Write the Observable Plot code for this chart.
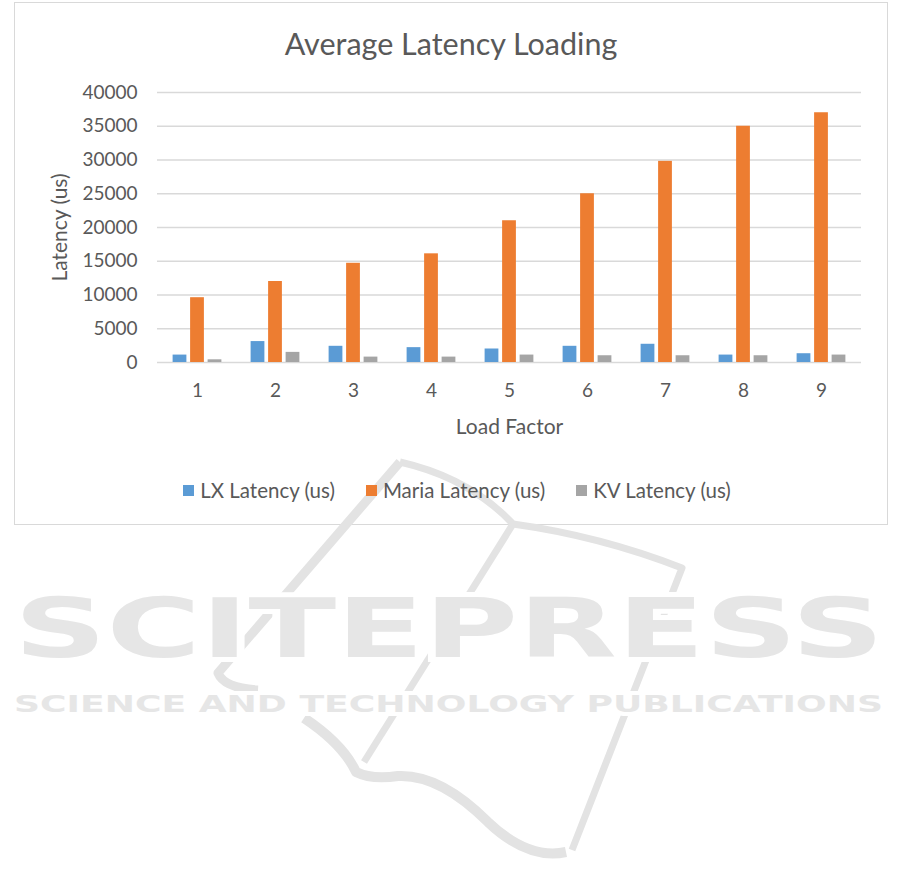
<!DOCTYPE html>
<html>
<head>
<meta charset="utf-8">
<script src="https://cdn.jsdelivr.net/npm/d3@7"></script>
<script src="https://cdn.jsdelivr.net/npm/@observablehq/plot@0.6"></script>
<style>
  html, body { margin: 0; padding: 0; background: #fff; }
  #wrap { position: relative; width: 901px; height: 887px; overflow: hidden; font-family: Lato, "Open Sans", sans-serif; }
  #frame { position: absolute; left: 14px; top: 2px; width: 874px; height: 523px; box-sizing: border-box; border: 1.5px solid #d9d9d9; }
  #title { position: absolute; left: 14px; width: 874px; top: 25px; text-align: center; font-size: 30.5px; color: #595959; line-height: 36px; }
  #chart { position: absolute; left: 0; top: 0; }
  #legend { position: absolute; left: 20px; width: 874px; top: 478px; display: flex; justify-content: center; gap: 31px; font-size: 20.5px; color: #595959; line-height: 24px; }
  .item { display: flex; align-items: center; }
  .sw { width: 11px; height: 11px; margin-right: 6px; }
  #wm { position: absolute; left: 0; top: 0; }
</style>
</head>
<body>
<div id="wrap">
  <div id="frame"></div>
  <svg id="wm" width="901" height="887">
    <g fill="none" stroke="#e3e3e3" stroke-linecap="butt" stroke-linejoin="round">
      <path d="M400,462 L218,673 Q224,688 258,690" stroke-width="9"/>
      <path d="M400,462 Q470,478 513,524 Q600,536 682,568 L572,850" stroke-width="7"/>
      <path d="M513,524 L364,762" stroke-width="7"/>
      <path d="M304,718 Q343,744 356,772 Q372,780 398,776 Q440,774 488,822 Q528,860 566,852" stroke-width="10"/>
    </g>
    <g font-family="DejaVu Sans" font-weight="bold" fill="#e6e6e6" stroke="#ffffff" stroke-width="10" style="paint-order: stroke">
      <text x="14" y="657" font-size="82" textLength="870" lengthAdjust="spacingAndGlyphs">SCITEPRESS</text>
      <text x="14" y="712" font-size="23" textLength="869" lengthAdjust="spacingAndGlyphs" stroke-width="8">SCIENCE AND TECHNOLOGY PUBLICATIONS</text>
    </g>
  </svg>
  <div id="title">Average Latency Loading</div>
  <div id="chart"></div>
  <div id="legend"></div>
</div>
<script>
// ---- data ----
const categories = ["1", "2", "3", "4", "5", "6", "7", "8", "9"];
const seriesNames = ["LX Latency (us)", "Maria Latency (us)", "KV Latency (us)"];
const lxLatency = [1100, 3100, 2400, 2200, 2000, 2400, 2700, 1100, 1300];
const mariaLatency = [9600, 12000, 14700, 16100, 21000, 25000, 29800, 35000, 37000];
const kvLatency = [400, 1500, 800, 800, 1100, 1000, 1000, 1000, 1100];
const yTicks = [0, 5000, 10000, 15000, 20000, 25000, 30000, 35000, 40000];
const seriesColors = ["#5b9bd5", "#ed7d31", "#a5a5a5"];

const seriesValues = [lxLatency, mariaLatency, kvLatency];
const rows = [];
seriesNames.forEach((s, si) => categories.forEach((c, ci) => rows.push({category: c, series: s, value: seriesValues[si][ci]})));

const W = 901, H = 442;
const mL = 157, mR = 40, mT = 92, mB = 80;
const band = (W - mL - mR) / categories.length;
const barW = 14, step = 17.5;
const inset = (band - barW) / 2;

const plot = Plot.plot({
  width: W,
  height: H,
  marginLeft: mL,
  marginRight: mR,
  marginTop: mT,
  marginBottom: mB,
  style: {fontFamily: "Lato, 'Open Sans', sans-serif", fontSize: "19px", color: "#595959", background: "transparent"},
  x: {domain: categories, padding: 0},
  y: {domain: [0, 40000]},
  marks: [
    Plot.ruleY(yTicks, {stroke: "#d9d9d9", strokeWidth: 1.4}),
    ...seriesNames.map((s, i) => Plot.barY(rows.filter(d => d.series === s), {
      x: "category", y: "value", fill: seriesColors[i],
      insetLeft: inset, insetRight: inset, dx: (i - 1) * step
    })),
    Plot.axisY({ticks: yTicks, tickSize: 0, tickPadding: 20, tickFormat: d => String(d), label: null, fontSize: 19}),
    Plot.axisY({ticks: [], tickSize: 0, label: "Latency (us)", labelAnchor: "center", labelOffset: 105, labelArrow: "none", fontSize: 21}),
    Plot.axisX({tickSize: 0, tickPadding: 21, label: null, fontSize: 19}),
    Plot.axisX({ticks: [], tickSize: 0, label: "Load Factor", labelAnchor: "center", labelOffset: 71, labelArrow: "none", fontSize: 21})
  ]
});
document.getElementById("chart").appendChild(plot);

const legend = document.getElementById("legend");
seriesNames.forEach((s, i) => {
  const it = document.createElement("div");
  it.className = "item";
  const sw = document.createElement("span");
  sw.className = "sw";
  sw.style.background = seriesColors[i];
  const t = document.createElement("span");
  t.textContent = s;
  it.appendChild(sw); it.appendChild(t);
  legend.appendChild(it);
});
</script>
</body>
</html>
